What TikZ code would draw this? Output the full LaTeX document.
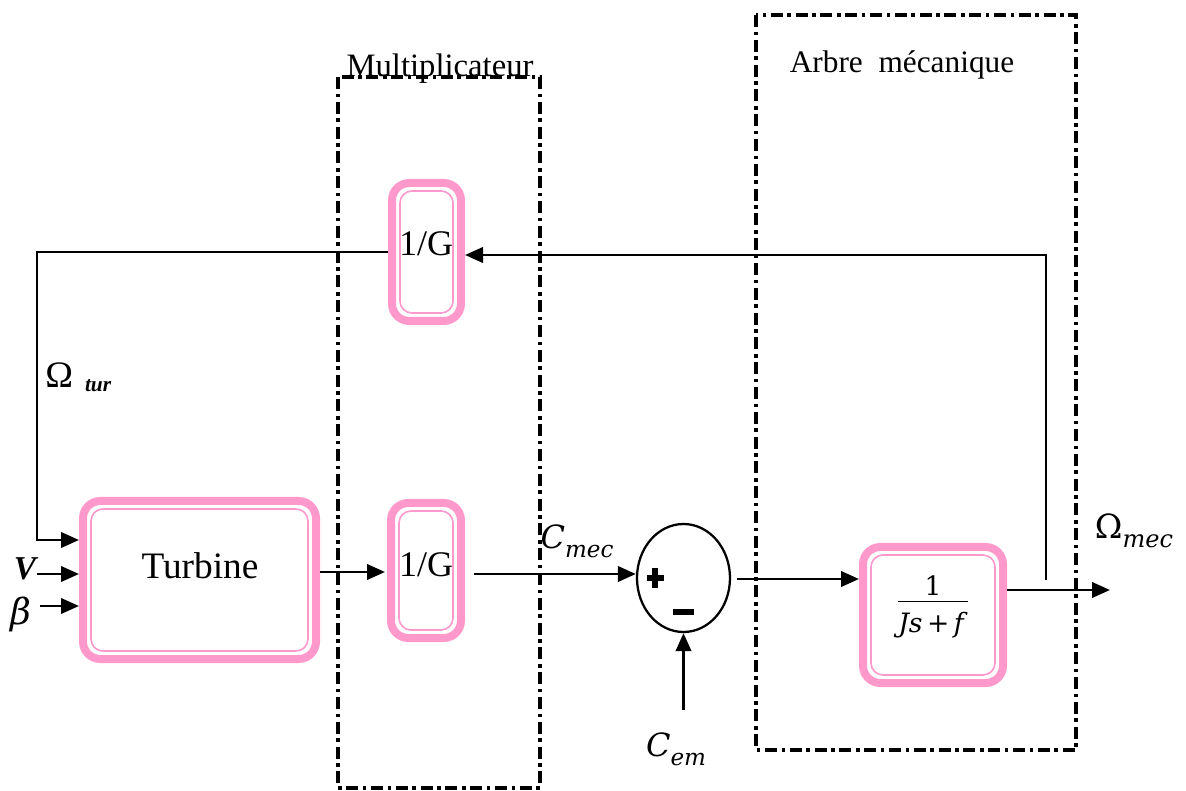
\documentclass[tikz,border=0pt]{standalone}
\usepackage{fontspec}
\setmainfont{Liberation Serif}
\newfontfamily\symfont{DejaVu Serif}
\usetikzlibrary{arrows.meta,calc,shapes.geometric}
\definecolor{blockpink}{HTML}{FF99CC}
% italic symbol with an italic subscript
\newcommand\symsub[2]{{\symfont\itshape #1}\raisebox{-0.28em}{\fontsize{0.72em}{1em}\symfont\itshape #2}}

\begin{document}
\begin{tikzpicture}[x=0.75pt,y=-0.75pt,
  blk/.style={draw=blockpink, line width=6pt, rounded corners=13pt, fill=white, inner sep=0pt},
  innerline/.style={draw=blockpink, line width=1.2pt, rounded corners=9pt},
  conn/.style={line width=2.1pt, -{Triangle[length=13.5pt,width=11.5pt]}},
  frame/.style={line width=2.6pt, dash pattern=on 9pt off 3.5pt on 2.6pt off 3.5pt},
  sign/.style={line width=4.2pt},
  lbl/.style={inner sep=0pt}]

\useasboundingbox (0,0) rectangle (1186,791);

% thin inner outline of a pink block
\newcommand\innerbox[1]{\draw[innerline] ($(#1.south west)+(12,-12)$) rectangle ($(#1.north east)+(-12,12)$);}

% dash-dot frames
\draw[frame] (338,77) rectangle (540,788);
\draw[frame] (756,15) rectangle (1076,750);
\node[lbl, anchor=base, font=\fontsize{24.5}{26}\selectfont] (multlbl) at (440,77) {Multiplicateur};
\node[lbl, anchor=base, font=\fontsize{23.5}{26}\selectfont] (arbrelbl) at (902,73) {Arbre\enspace mécanique};

% blocks
\node[blk, minimum width={233*0.75pt}, minimum height={158*0.75pt}] (turb) at (199.5,580) {};
\innerbox{turb}
\node[lbl, anchor=base, font=\fontsize{28}{30}\selectfont] (turbtxt) at (200,578) {Turbine};

\node[blk, minimum width={69*0.75pt}, minimum height={138*0.75pt}] (gtop) at (426.5,252) {};
\innerbox{gtop}
\node[lbl, anchor=base, font=\fontsize{27}{30}\selectfont] (gtoptxt) at (426,256) {1/G};

\node[blk, minimum width={70*0.75pt}, minimum height={135*0.75pt}] (gbot) at (426,570.5) {};
\innerbox{gbot}
\node[lbl, anchor=base, font=\fontsize{27}{30}\selectfont] (gbottxt) at (426,576) {1/G};

\node[blk, minimum width={140*0.75pt}, minimum height={136*0.75pt}] (jsf) at (933,615) {};
\innerbox{jsf}
\node[lbl, font=\fontsize{20}{22}\selectfont\symfont, align=center] (jsftxt) at (933,608)
  {\begin{tabular}{@{}c@{}}1\\[-2pt]\hline\rule{0pt}{23pt}\textit{Js}\,+\,\textit{f}\end{tabular}};

% summing junction
\node[draw, line width=1.7pt, ellipse, minimum width={93*0.75pt}, minimum height={108*0.75pt}, inner sep=0pt] (sum) at (683.5,578) {};
\draw[sign] ($(sum.center)+(-37,0)$) -- ($(sum.center)+(-20,0)$);
\draw[sign] ($(sum.center)+(-28.5,-10)$) -- ($(sum.center)+(-28.5,10)$);
\draw[sign] ($(sum.center)+(-11,34)$) -- ($(sum.center)+(10,34)$);

% inputs of the turbine
\coordinate (vin) at (37,574);
\coordinate (bin) at (40,606);
\draw[conn] (vin) -- (vin -| turb.west);
\draw[conn] (bin) -- (bin -| turb.west);
\node[lbl, font=\fontsize{25}{26}\selectfont\bfseries\itshape] (vlbl) at (25,569) {V};
\node[lbl, font=\fontsize{27}{30}\selectfont\symfont\itshape] (blbl) at (21,614) {β};

% forward path
\draw[conn] (turb.east |- 0,572) -- (385,572);
\draw[conn] (474,574) -- (sum.west |- 0,574);
\draw[conn] (sum.east |- 0,579) ++(6,0) -- (jsf.west |- 0,579);
\coordinate (out) at (1110,590);
\draw[conn] (jsf.east |- out) -- (out);
\coordinate (cem) at (683.5,710);
\draw[conn] (cem) -- (sum.south);

% speed feedback through the gearbox
\coordinate (tap) at (1046,580);
\draw[conn] (tap) -- (1046,255) -- (gtop.east |- 0,255);
\draw[conn] (gtop.west |- 0,252) -- (37,252) -- (37,540) -- (turb.west |- 0,540);

% signal labels
\node[lbl, font=\fontsize{24}{30}\selectfont] (cmec) at (577,541) {\symsub{C}{mec}};
\node[lbl, font=\fontsize{24}{30}\selectfont] (cemlbl) at (676,749) {\symsub{C}{em}};
\node[lbl, font=\fontsize{25}{30}\selectfont] (omec) at (1134,531) {{\symfont Ω}\raisebox{-0.28em}{\fontsize{18}{20}\symfont\itshape mec}};
\node[lbl, anchor=base west, font=\fontsize{28}{30}\selectfont] (otur) at (45,388) {Ω\hspace{9pt}\raisebox{-3pt}{\fontsize{16}{18}\selectfont\bfseries\itshape tur}};
\end{tikzpicture}
\end{document}
